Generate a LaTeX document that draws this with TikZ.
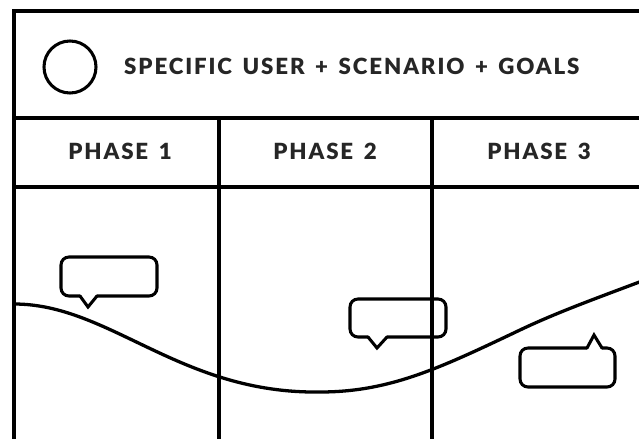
\documentclass[tikz,border=0pt]{standalone}
\usepackage{fontspec}
\setmainfont{Lato}
\newfontfamily\capsfont[LetterSpace=8.5, WordSpace=1.5]{Lato Black}

\begin{document}
\begin{tikzpicture}[x=0.3mm,y=-0.3mm,
  frameline/.style={line width=2.8pt},
  bubble/.style={line width=2.6pt, rounded corners=2.4mm, line cap=round},
  tail/.style={line width=2.6pt, line join=miter, line cap=round},
  headtext/.style={inner sep=0pt, text=black!85, font=\capsfont\fontsize{19}{22}\selectfont}]
\path[use as bounding box] (0,0) rectangle (639,439);
\clip (0,0) rectangle (639,439);

% frame and grid
\draw [frameline] (14,11) rectangle (650,460);
\draw [frameline] (14,118) -- (650,118);
\draw [frameline] (14,187) -- (650,187);
\draw [frameline] (219,118) -- (219,460);
\draw [frameline] (432,118) -- (432,460);

% header
\node[circle, draw, line width=2.6pt, minimum size=15.6mm, inner sep=0pt] (avatar) at (70,67) {};
\node[headtext, anchor=west] (title) at (124,66) {SPECIFIC USER + SCENARIO + GOALS};

\node[headtext] (phase1) at (120,151) {PHASE 1};
\node[headtext] (phase2) at (325,151) {PHASE 2};
\node[headtext] (phase3) at (539,151) {PHASE 3};

% journey line
\draw [line width=2.8pt] (14,304) .. controls (110,304) and (180,394) .. (320,392)
  .. controls (390,392) and (440,368) .. (520,330)
  .. controls (560,311) and (600,297) .. (650,278);

% bubbles
\draw [bubble] (97,296) -- (157,296) -- (157,257) -- (61,257) -- (61,296) -- (80,296);
\draw [tail] (80,296) -- (88,307) -- (97,296);

\draw [bubble] (387,337) -- (446,337) -- (446,299) -- (350,299) -- (350,337) -- (368,337);
\draw [tail] (368,337) -- (377,348) -- (387,337);

\draw [bubble] (602,348) -- (615,348) -- (615,387) -- (520,387) -- (520,348) -- (587,348);
\draw [tail] (587,348) -- (594,335) -- (602,348);

\end{tikzpicture}
\end{document}
